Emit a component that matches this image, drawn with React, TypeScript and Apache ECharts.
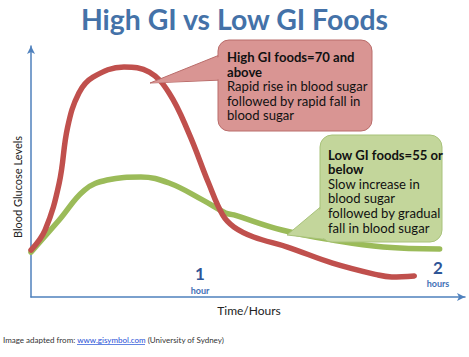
import React, { useEffect, useRef } from "react";
import * as echarts from "echarts";

// time in minutes, blood glucose in relative units (0-100)
const highGiTime = [0, 5, 10, 13, 17, 22, 33, 42, 49, 56, 63, 68, 72, 79, 91, 107, 123, 128, 136];
const highGiLevel = [18.7, 26.7, 45.4, 67.7, 81.3, 87.6, 91.6, 89.6, 81.3, 65.3, 45.4, 32.7, 27.9, 23.9, 19.9, 13.5, 8.8, 8.0, 8.4];
const lowGiTime = [0, 10, 19, 27, 39, 49, 61, 69, 72, 89, 107, 125, 145];
const lowGiLevel = [17.9, 30.7, 42.6, 46.6, 47.8, 45.4, 38.6, 33.5, 32.7, 26.7, 22.7, 19.9, 19.1];

const titleText = "High GI vs Low GI Foods";
const yAxisName = "Blood Glucose Levels";
const xAxisName = "Time/Hours";
const highBold = ["High GI foods=70 and", "above"];
const highBody = ["Rapid rise in blood sugar", "followed by rapid fall in", "blood sugar"];
const lowBold = ["Low GI foods=55 or", "below"];
const lowBody = ["Slow increase in", "blood sugar", "followed by gradual", "fall in blood sugar"];

const FONT = "Lato, 'Open Sans', sans-serif";

function calloutTexts(x: number, y0: number, lh: number, bold: string[], body: string[]) {
  const all = [...bold.map((t) => ({ t, b: true })), ...body.map((t) => ({ t, b: false }))];
  return all.map((l, i) => ({
    type: "text",
    x,
    y: y0 + i * lh,
    z: 20,
    style: {
      text: l.t,
      fill: "#111",
      fontFamily: FONT,
      fontSize: 13.1,
      lineHeight: 13,
      fontWeight: l.b ? "bold" : "normal",
      verticalAlign: "middle",
      align: "left",
    },
  }));
}

export default function App() {
  const ref = useRef<HTMLDivElement>(null);
  useEffect(() => {
    if (!ref.current) return;
    const chart = echarts.init(ref.current, undefined, { renderer: "svg" });
    const red = "#c0504d";
    const green = "#9bbb59";
    const axisColor = "#4f81bd";
    chart.setOption({
      animation: false,
      backgroundColor: "#fff",
      title: {
        text: titleText,
        left: "center",
        top: 0,
        textStyle: { fontFamily: FONT, fontSize: 28.4, fontWeight: "bold", color: "#4472a8" },
      },
      grid: { left: 31, right: 4, top: 46, bottom: 60 },
      xAxis: {
        type: "value",
        min: 0,
        max: 154,
        axisLine: { show: true, lineStyle: { color: axisColor, width: 1.5 }, symbol: ["none", "arrow"], symbolSize: [6, 8] },
        axisTick: { show: false },
        axisLabel: { show: false },
        splitLine: { show: false },
      },
      yAxis: {
        type: "value",
        min: 0,
        max: 100,
        axisLine: { show: true, lineStyle: { color: axisColor, width: 1.5 }, symbol: ["none", "arrow"], symbolSize: [6, 8] },
        axisTick: { show: false },
        axisLabel: { show: false },
        splitLine: { show: false },
      },
      series: [
        {
          type: "line",
          name: "High GI",
          data: highGiTime.map((t, i) => [t, highGiLevel[i]]),
          smooth: 0.4,
          showSymbol: false,
          lineStyle: { color: red, width: 5.5, cap: "round", join: "round" },
          z: 3,
        },
        {
          type: "line",
          name: "Low GI",
          data: lowGiTime.map((t, i) => [t, lowGiLevel[i]]),
          smooth: 0.4,
          showSymbol: false,
          lineStyle: { color: green, width: 5.5, cap: "round", join: "round" },
          z: 2,
        },
      ],
      graphic: [
        {
          type: "text",
          x: 17,
          y: 187,
          rotation: Math.PI / 2,
          style: { text: yAxisName, fontFamily: FONT, fontSize: 11, fill: "#222", align: "center", verticalAlign: "middle" },
        },
        {
          type: "text",
          x: 249,
          y: 310,
          style: { text: xAxisName, fontFamily: FONT, fontSize: 12, fill: "#222", align: "center", verticalAlign: "middle" },
        },
        { type: "text", x: 200, y: 273, style: { text: "1", fontFamily: FONT, fontSize: 17, fontWeight: "bold", fill: "#2e5597", align: "center", verticalAlign: "middle" } },
        { type: "text", x: 200, y: 290, style: { text: "hour", fontFamily: FONT, fontSize: 9, fontWeight: "bold", fill: "#3f6fb5", align: "center", verticalAlign: "middle" } },
        { type: "text", x: 438, y: 267, style: { text: "2", fontFamily: FONT, fontSize: 17, fontWeight: "bold", fill: "#2e5597", align: "center", verticalAlign: "middle" } },
        { type: "text", x: 438, y: 283, style: { text: "hours", fontFamily: FONT, fontSize: 9, fontWeight: "bold", fill: "#3f6fb5", align: "center", verticalAlign: "middle" } },
        // red callout
        { type: "polygon", z: 10, shape: { points: [[150, 83], [222, 54], [222, 80]] }, style: { fill: "#d99593", stroke: "#b96c6a", lineWidth: 1 } },
        { type: "rect", z: 11, shape: { x: 218, y: 40, width: 154, height: 91, r: 11 }, style: { fill: "#d99593", stroke: "#b96c6a", lineWidth: 1 } },
        { type: "polygon", z: 12, shape: { points: [[152, 83], [224, 55], [224, 79]] }, style: { fill: "#d99593" } },
        // green callout
        { type: "polygon", z: 10, shape: { points: [[287, 235], [324, 204], [330, 240]] }, style: { fill: "#c3d69b", stroke: "#a8c27a", lineWidth: 1 } },
        { type: "rect", z: 11, shape: { x: 320, y: 135, width: 122, height: 107, r: 12 }, style: { fill: "#c3d69b", stroke: "#a8c27a", lineWidth: 1 } },
        { type: "polygon", z: 12, shape: { points: [[289, 234], [326, 205], [331, 239]] }, style: { fill: "#c3d69b" } },
        ...calloutTexts(227, 57, 14.6, highBold, highBody),
        ...calloutTexts(328, 154.5, 14.6, lowBold, lowBody),
        // footer
        {
          type: "text",
          x: 3,
          y: 340,
          style: {
            text: "Image adapted from: {l|www.gisymbol.com} (University of Sydney)",
            fontFamily: FONT,
            fontSize: 8,
            fill: "#333",
            verticalAlign: "middle",
            rich: { l: { fill: "#1f4fd6", fontFamily: FONT, fontSize: 8 } },
          },
        },
        { type: "line", shape: { x1: 77, y1: 344.5, x2: 145, y2: 344.5 }, style: { stroke: "#1f4fd6", lineWidth: 0.7 } },
      ],
    });
    return () => chart.dispose();
  }, []);
  return <div ref={ref} style={{ position: "fixed", left: 0, top: 0, width: 469, height: 357 }} />;
}
